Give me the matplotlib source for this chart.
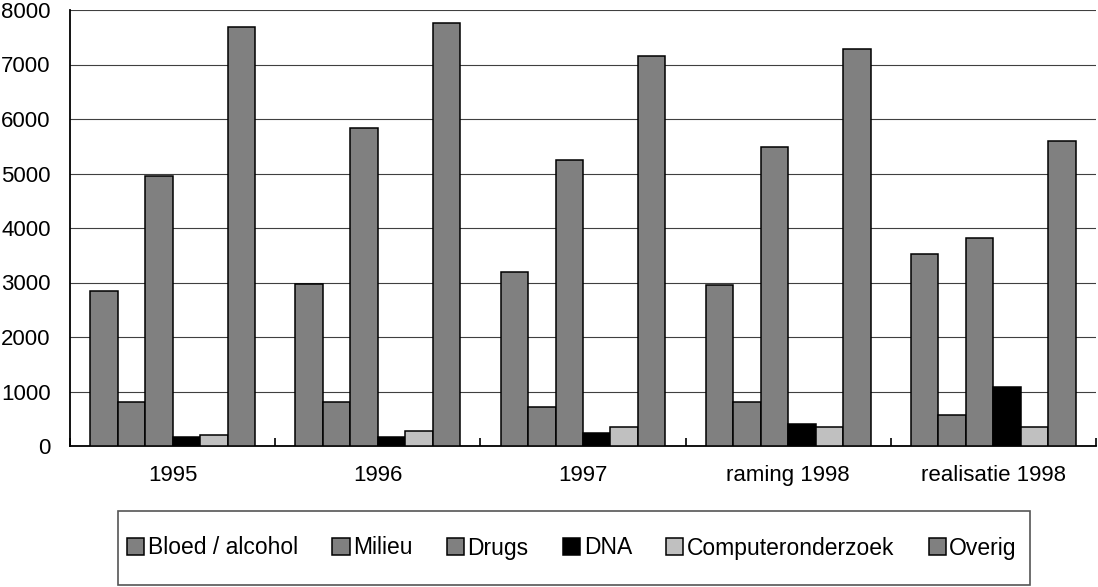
import numpy as np
import matplotlib.pyplot as plt
from matplotlib.patches import Rectangle

plt.rcParams['font.family'] = ['Liberation Sans', 'DejaVu Sans']

groups = ['1995', '1996', '1997', 'raming 1998', 'realisatie 1998']
series = ['Bloed / alcohol', 'Milieu', 'Drugs', 'DNA', 'Computeronderzoek', 'Overig']
bloed = [2850, 2970, 3200, 2955, 3520]
milieu = [800, 800, 710, 800, 565]
drugs = [4960, 5840, 5250, 5480, 3810]
dna = [170, 170, 245, 400, 1090]
computer = [200, 275, 355, 355, 355]
overig = [7690, 7760, 7160, 7285, 5600]
colors = ['#808080', '#808080', '#808080', '#000000', '#c0c0c0', '#808080']

data = [bloed, milieu, drugs, dna, computer, overig]

fig = plt.figure(figsize=(10.98, 5.87), dpi=100)
ax = fig.add_axes([70/1098, 1 - 446/587, 1026/1098, 436/587])

x = np.arange(len(groups))
w = 0.134
for i, (vals, c) in enumerate(zip(data, colors)):
    ax.bar(x + (i - 2.5) * w, vals, w, color=c, edgecolor='black',
           linewidth=1.1, label=series[i], zorder=3)

ax.set_xlim(-0.5, len(groups) - 0.5)
ax.set_ylim(0, 8000)
ax.set_yticks(np.arange(0, 8001, 1000))
ax.yaxis.grid(True, color='#404040', linewidth=0.8, zorder=0)
ax.set_axisbelow(True)

ax.set_xticks(x)
ax.set_xticklabels(groups)
ax.set_xticks(np.arange(-0.5, len(groups) + 0.5, 1), minor=True)
ax.tick_params(axis='x', which='major', length=0, pad=14, labelsize=16)
ax.tick_params(axis='x', which='minor', direction='in', length=6, width=1.2)
ax.tick_params(axis='y', length=0, pad=14, labelsize=16)

for s in ['top', 'right']:
    ax.spines[s].set_visible(False)
ax.spines['left'].set_linewidth(1.3)
ax.spines['bottom'].set_linewidth(1.3)

# legend box
fig.patches.append(Rectangle((118/1098, 1 - 585/587), 912/1098, 74/587,
                             transform=fig.transFigure, fill=False,
                             edgecolor='#555555', linewidth=1.2))
fig.legend(loc='center', bbox_to_anchor=(572/1098, 1 - 548/587), ncol=6,
           frameon=False, fontsize=16.5, handlelength=0.75, handleheight=0.75,
           handletextpad=0.15, columnspacing=1.5)

fig.savefig('out.png', dpi=100)
